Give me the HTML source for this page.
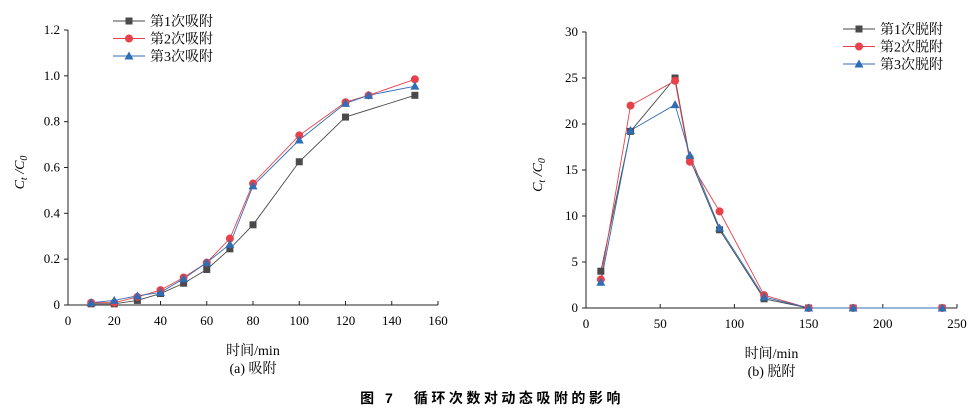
<!DOCTYPE html>
<html><head><meta charset="utf-8"><style>
body{margin:0;background:#fff;}
svg{display:block;font-family:"Liberation Serif","Noto Serif CJK SC",serif;}
</style></head><body>
<svg id="c" width="980" height="409" viewBox="0 0 980 409">
<text x="492" y="403" text-anchor="middle" font-size="14" letter-spacing="3.5" font-weight="bold" font-family="'Liberation Sans','Noto Sans CJK SC',sans-serif">图 7　循环次数对动态吸附的影响</text>
</svg>
<script>
const adsX1=[10,20,30,40,50,60,70,80,100,120,150];
const adsS1=[0.005,0.005,0.02,0.05,0.095,0.155,0.245,0.35,0.625,0.82,0.915];
const adsX=[10,20,30,40,50,60,70,80,100,120,130,150];
const adsS2=[0.01,0.01,0.035,0.065,0.12,0.185,0.29,0.53,0.74,0.885,0.915,0.985];
const adsS3=[0.01,0.02,0.04,0.055,0.115,0.185,0.265,0.52,0.72,0.88,0.915,0.955];
const adsXTicks=[0,20,40,60,80,100,120,140,160];
const adsYTicks=[0,0.2,0.4,0.6,0.8,1.0,1.2];
const adsYLabels=["0","0.2","0.4","0.6","0.8","1.0","1.2"];
const desX=[10,30,60,70,90,120,150,180,240];
const desS1=[4,19.2,25,16.2,8.5,1,0,0,0];
const desS2=[3.1,22,24.7,15.9,10.5,1.4,0,0,0];
const desS3=[2.8,19.3,22.1,16.6,8.7,1.2,0,0,0];
const desXTicks=[0,50,100,150,200,250];
const desYTicks=[0,5,10,15,20,25,30];
const adsLegend=["第1次吸附","第2次吸附","第3次吸附"];
const desLegend=["第1次脱附","第2次脱附","第3次脱附"];
const colors=["#4a4a4a","#e8414a","#2f6db5"];
const NS="http://www.w3.org/2000/svg";
const svg=document.getElementById('c');
function el(t,a,p){const e=document.createElementNS(NS,t);for(const k in a)e.setAttribute(k,a[k]);(p||svg).appendChild(e);return e;}
function marker(g,kind,x,y,c){
  let m;
  if(kind===0)m=el('rect',{x:x-3.5,y:y-3.5,width:7,height:7,fill:c},g);
  else if(kind===1)m=el('circle',{cx:x,cy:y,r:4,fill:c},g);
  else m=el('polygon',{points:`${x},${y-4.5} ${x+4.5},${y+3.5} ${x-4.5},${y+3.5}`,fill:c},g);
  
  
}
function chart(o){
  const g=el('g',{});
  
  
  const sx=v=>o.x0+(v-o.xmin)/(o.xmax-o.xmin)*(o.x1-o.x0);
  const sy=v=>o.y0-(v-o.ymin)/(o.ymax-o.ymin)*(o.y0-o.y1);
  const ax=el('path',{d:`M${o.x0},${o.y1} V${o.y0} H${o.x1}`,stroke:'#222',fill:'none','stroke-width':1},g);
  
  
  o.xt.forEach(v=>{el('line',{x1:sx(v),x2:sx(v),y1:o.y0,y2:o.y0-4,stroke:'#222'},g);
    const t=el('text',{x:sx(v),y:o.y0+20,'text-anchor':'middle','font-size':13},g);t.textContent=v;
    });
  o.yt.forEach((v,i)=>{el('line',{x1:o.x0,x2:o.x0-4,y1:sy(v),y2:sy(v),stroke:'#222'},g);
    const t=el('text',{x:o.x0-8,y:sy(v)+4,'text-anchor':'end','font-size':13},g);t.textContent=o.yl?o.yl[i]:v;
    });
  o.series.forEach((s,k)=>{
    const pts=s.x.map((xv,i)=>sx(xv)+','+sy(s.y[i])).join(' ');
    const pl=el('polyline',{points:pts,fill:'none',stroke:colors[k],'stroke-width':0.9},g);
    
    
  });
  o.series.forEach((s,k)=>s.x.forEach((xv,i)=>marker(g,k,sx(xv),sy(s.y[i]),colors[k])));
  o.leg.forEach((l,k)=>{
    const y=o.ly+k*17.5;
    el('line',{x1:o.lx,x2:o.lx+32,y1:y,y2:y,stroke:colors[k]},g);
    marker(g,k,o.lx+16,y,colors[k]);
    const t=el('text',{x:o.lx+37,y:y+5,'font-size':14},g);t.textContent=l;
    
  });
  const yt=el('text',{x:0,y:0,'font-size':14,'font-style':'italic','text-anchor':'middle',transform:`translate(${o.ytx},${(o.y0+o.y1)/2+5}) rotate(-90)`},g);
  yt.innerHTML='C<tspan font-size="10" dy="3">t</tspan><tspan dy="-3"> /C</tspan><tspan font-size="10" dy="3">0</tspan>';
  
  const mx=(o.x0+o.x1)/2;
  const xt=el('text',{x:mx,y:o.y0+50,'text-anchor':'middle','font-size':14},g);xt.textContent='时间/min';
  
  const st=el('text',{x:mx,y:o.y0+68,'text-anchor':'middle','font-size':14},g);st.textContent=o.sub;
  
}
chart({name:'adsorption-chart',x0:68,x1:438,y0:305,y1:30,xmin:0,xmax:160,ymin:0,ymax:1.2,xt:adsXTicks,yt:adsYTicks,yl:adsYLabels,
  series:[{x:adsX1,y:adsS1},{x:adsX,y:adsS2},{x:adsX,y:adsS3}],leg:adsLegend,lx:113,ly:21,ytx:24,sub:'(a) 吸附'});
chart({name:'desorption-chart',x0:586,x1:957,y0:308,y1:32,xmin:0,xmax:250,ymin:0,ymax:30,xt:desXTicks,yt:desYTicks,
  series:[{x:desX,y:desS1},{x:desX,y:desS2},{x:desX,y:desS3}],leg:desLegend,lx:843,ly:29,ytx:542,sub:'(b) 脱附'});
</script>
</body></html>
